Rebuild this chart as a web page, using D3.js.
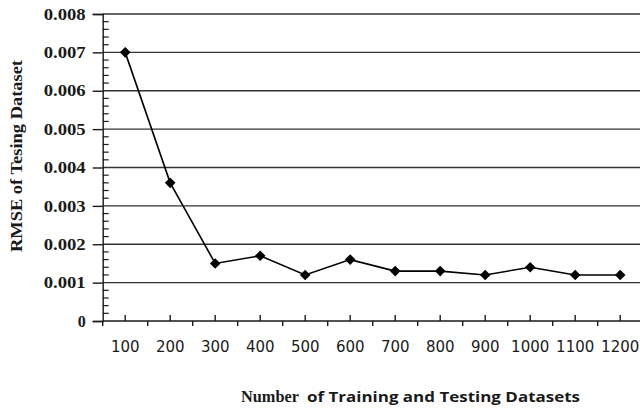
<!DOCTYPE html>
<html>
<head>
<meta charset="utf-8">
<script src="https://cdn.jsdelivr.net/npm/d3@7"></script>
<style>
  html, body { margin: 0; padding: 0; background: #fff; }
  svg { display: block; }
</style>
</head>
<body>
<svg id="chart" width="640" height="411"></svg>
<script>
const categories = ["100","200","300","400","500","600","700","800","900","1000","1100","1200"];
const rmse = [0.0070, 0.0036, 0.0015, 0.0017, 0.0012, 0.0016, 0.0013, 0.0013, 0.0012, 0.0014, 0.0012, 0.0012];
const yTicks = [0, 0.001, 0.002, 0.003, 0.004, 0.005, 0.006, 0.007, 0.008];
const yTickLabels = ["0", "0.001", "0.002", "0.003", "0.004", "0.005", "0.006", "0.007", "0.008"];
const yTitle = "RMSE of Tesing Dataset";
const xTitleA = "Number";
const xTitleB = "of Training and Testing Datasets";

(function () {
const svg = d3.select("#chart");
const mLeft = 102.7, mTop = 14, mBottom = 321;
const catW = 45;
const mRight = mLeft + catW * categories.length;

const x = d3.scaleBand().domain(categories).range([mLeft, mRight]).paddingInner(0).paddingOuter(0);
const y = d3.scaleLinear().domain([0, 0.008]).range([mBottom, mTop]);

const ink = "#1a1a1a";

// gridlines
svg.append("g").selectAll("line").data(yTicks.filter(d => d > 0)).join("line")
  .attr("x1", mLeft).attr("x2", 640)
  .attr("y1", d => y(d)).attr("y2", d => y(d))
  .attr("stroke", "#333").attr("stroke-width", 1.4);

// y axis with outward major ticks
const yAxis = d3.axisLeft(y).tickValues(yTicks).tickSize(10).tickPadding(6)
  .tickFormat((d, i) => yTickLabels[i]);
const gy = svg.append("g").attr("transform", `translate(${mLeft},0)`).call(yAxis);
gy.select(".domain").attr("stroke", ink).attr("stroke-width", 1.4);
gy.selectAll(".tick line").attr("stroke", ink).attr("stroke-width", 1.4);
gy.selectAll(".tick text")
  .attr("font-family", "'Liberation Serif', 'Times New Roman', serif")
  .attr("font-weight", "bold").attr("font-size", 16).attr("fill", ink)
  .attr("x", -17)
  .each(function(d, i) {
    if (yTickLabels[i].length > 1) d3.select(this).attr("textLength", 42).attr("lengthAdjust", "spacingAndGlyphs");
  });

// y minor ticks (inside)
const minor = d3.range(0, 0.008 + 1e-9, 0.0002).filter(v => Math.abs(v / 0.001 - Math.round(v / 0.001)) > 1e-6);
svg.append("g").selectAll("line").data(minor).join("line")
  .attr("x1", mLeft).attr("x2", mLeft + 6)
  .attr("y1", d => y(d)).attr("y2", d => y(d))
  .attr("stroke", ink).attr("stroke-width", 1.2);

// x axis: boundary ticks point down, center ticks point up
const gx = svg.append("g");
gx.append("line").attr("x1", mLeft).attr("x2", 640).attr("y1", mBottom).attr("y2", mBottom)
  .attr("stroke", ink).attr("stroke-width", 1.4);
const boundaries = categories.map(c => x(c)).concat([mRight]);
gx.selectAll("line.b").data(boundaries).join("line").attr("class", "b")
  .attr("x1", d => d).attr("x2", d => d).attr("y1", mBottom).attr("y2", mBottom + 5)
  .attr("stroke", ink).attr("stroke-width", 1.4);
gx.selectAll("line.c").data(categories).join("line").attr("class", "c")
  .attr("x1", d => x(d) + x.bandwidth() / 2).attr("x2", d => x(d) + x.bandwidth() / 2)
  .attr("y1", mBottom).attr("y2", mBottom - 6)
  .attr("stroke", ink).attr("stroke-width", 1.4);
gx.selectAll("text").data(categories).join("text")
  .attr("x", d => x(d) + x.bandwidth() / 2).attr("y", 351.5)
  .attr("text-anchor", "middle")
  .attr("font-family", "'DejaVu Sans', Verdana, sans-serif").attr("font-size", 15)
  .attr("fill", ink)
  .text(d => d);

// line
const cx = (d, i) => x(categories[i]) + x.bandwidth() / 2;
svg.append("path").datum(rmse)
  .attr("d", d3.line().x(cx).y(d => y(d)))
  .attr("fill", "none").attr("stroke", "#000").attr("stroke-width", 1.6);

// diamond markers
svg.append("g").selectAll("path").data(rmse).join("path")
  .attr("d", d3.symbol().type(d3.symbolSquare).size(56))
  .attr("transform", (d, i) => `translate(${cx(d, i)},${y(d)}) rotate(45)`)
  .attr("fill", "#000");

// y title
svg.append("text")
  .attr("transform", `translate(22,156) rotate(-90)`)
  .attr("text-anchor", "middle")
  .attr("font-family", "'Liberation Serif', 'Times New Roman', serif")
  .attr("font-weight", "bold").attr("font-size", 16).attr("fill", ink)
  .attr("textLength", 192).attr("lengthAdjust", "spacingAndGlyphs")
  .text(yTitle);

// x title
svg.append("text")
  .attr("x", 241).attr("y", 402)
  .attr("font-family", "'Liberation Serif', 'Times New Roman', serif")
  .attr("font-weight", "bold").attr("font-size", 16.5).attr("fill", ink)
  .attr("textLength", 58).attr("lengthAdjust", "spacingAndGlyphs")
  .text(xTitleA);
svg.append("text")
  .attr("x", 307).attr("y", 402)
  .attr("font-family", "'Open Sans', 'DejaVu Sans', sans-serif")
  .attr("font-weight", "bold").attr("font-size", 14).attr("fill", ink)
  .attr("textLength", 273).attr("lengthAdjust", "spacingAndGlyphs")
  .text(xTitleB);
})();
</script>
</body>
</html>
